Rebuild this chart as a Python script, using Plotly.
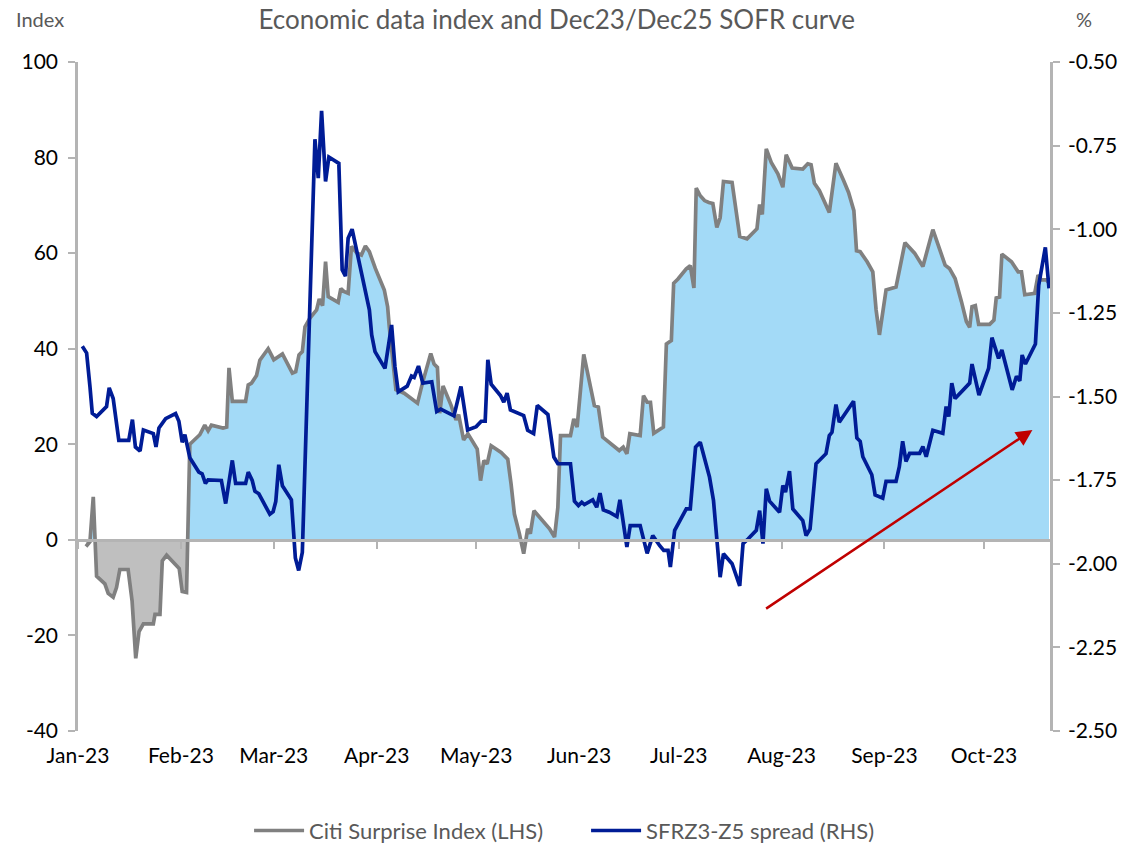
import numpy as np
import pandas as pd
import plotly.graph_objects as go

# ---------------- data ----------------
# day offsets from 1 Jan 2023
citi_day = [2.4, 3.6, 4.6, 5.6, 8.1, 9.1, 10.6, 11.6, 12.6, 15.1, 16.3, 17.4, 18.4, 19.7, 22.7, 23.2,
            24.7, 25.4, 26.7, 28.2, 30.5, 31.4, 32.7, 33.7, 36.7, 38.2, 39.2, 40.2, 43.7, 44.8, 45.5,
            46.5, 50.5, 51.3, 52.3, 53.8, 54.8, 57.3, 59.0, 61.6, 63.3, 64.6, 65.6, 66.6, 67.6, 68.4,
            69.9, 71.9, 72.7, 73.7, 74.6, 75.4, 78.4, 79.2, 80.1, 81.4, 82.4, 84.1, 85.4, 86.6, 87.8,
            89.6, 92.3, 93.3, 93.8, 95.0, 95.8, 98.3, 102.3, 103.8, 106.3, 107.3, 108.3, 109.0, 110.0,
            112.4, 113.9, 114.7, 116.2, 117.5, 120.3, 121.3, 122.3, 123.3, 124.5, 127.5, 129.5, 130.5,
            131.5, 133.0, 134.3, 135.5, 136.3, 137.4, 140.1, 142.1, 143.6, 144.6, 145.4, 148.4, 149.4,
            150.4, 152.4, 155.6, 156.8, 158.1, 163.1, 164.3, 165.4, 166.3, 169.4, 170.4, 171.5, 172.5,
            173.5, 176.4, 177.3, 178.8, 179.5, 180.8, 183.3, 184.5, 185.6, 186.3, 187.5, 188.8, 190.1,
            191.3, 192.5, 193.5, 194.5, 197.1, 199.4, 201.6, 204.6, 205.4, 206.2, 207.4, 208.9, 210.9,
            212.4, 213.4, 215.2, 218.4, 219.9, 220.9, 221.9, 223.4, 226.4, 228.4, 230.7, 232.2, 233.8,
            234.6, 235.7, 237.8, 239.5, 240.5, 241.5, 243.5, 246.5, 249.2, 252.1, 254.6, 257.6, 261.3,
            262.6, 264.3, 266.2, 267.7, 268.7, 269.4, 270.4, 271.4, 274.7, 276.0, 276.7, 277.7, 278.4,
            281.3, 283.3, 284.3, 285.3, 288.3, 289.3, 290.3, 291.8, 292.6]
citi_val = [-1.4, -0.4, 9, -7.6, -9.2, -11.2, -12, -10, -6.2, -6.2, -12.8, -24.8, -19.2, -17.6, -17.6, -15.6,
            -15.6, -4.4, -3.2, -4.4, -6, -10.8, -11, 20, 22, 24, 22.8, 24, 23.4, 23.6, 36,
            29, 29, 32.4, 32.8, 34.4, 37.6, 40, 37.7, 38.9, 36.6, 34.9, 35.2, 38.7, 39.4, 44.6,
            46.4, 48.1, 50.4, 49, 58.2, 50.9, 49.7, 52.6, 52, 51.6, 61.4, 60, 59.6, 61.5, 60.3,
            56.8, 52.3, 48.8, 44.6, 35.6, 31.4, 30.7, 28.6, 32.8, 39, 36.8, 36.1, 26.5, 32.2,
            28.2, 25.1, 26.2, 20.9, 22.2, 19, 12.4, 16.6, 15.9, 19.7, 18.3, 16.9, 11.7,
            5.4, 1.3, -2.9, 2.3, 1.3, 6.1, 4, 2.3, 0.6, 6.8, 21.8, 21.8, 25.3,
            23.6, 38.8, 28.1, 27.8, 21.5, 18.7, 19.4, 18, 22.2, 21.8, 30.2, 28.8, 28.8,
            22.3, 23.6, 41, 41.7, 53.7, 54.6, 56.7, 57.4, 52.7, 73.6, 72, 71, 70.6,
            70.4, 65.4, 67.4, 75, 74.8, 63.5, 63, 65.1, 70.2, 68.1, 81.8, 79, 76.6,
            73.8, 80.6, 77.8, 77.6, 78.7, 78.5, 74.6, 73.1, 68.5, 78.8, 75.2, 72.7, 68.9,
            60.5, 60.3, 58.2, 56.1, 48.1, 42.9, 52.3, 52.9, 62.2, 60, 57.2, 64.9, 57.5,
            56.8, 54.7, 49.9, 45.7, 44.5, 48.8, 49, 45.1, 45.1, 46, 50.6, 50.8, 59.8,
            58.2, 56.1, 56.1, 51.3, 51.6, 55.4, 54.4, 54.4, 53.8]

sofr_day = [1.3, 2.6, 3.6, 4.3, 5.6, 8.6, 9.4, 10.6, 12.3, 15.3, 16.4, 17.3, 18.7, 19.7, 22.7, 23.5,
            24.4, 26.4, 29.4, 30.4, 31.4, 32.2, 33.7, 36.4, 37.4, 38.4, 39.2, 43.2, 44.5, 46.5, 47.5,
            50.5, 51.3, 52.5, 53.3, 54.5, 57.8, 58.8, 59.6, 60.5, 61.6, 64.3, 65.5, 66.5, 67.6, 71.4,
            72.4, 73.4, 74.6, 75.6, 78.6, 79.6, 80.6, 81.4, 82.6, 85.2, 87.8, 88.5, 89.5, 92.5, 94.5,
            95.5, 96.5, 99.2, 100.5, 101.3, 102.6, 103.9, 106.6, 108.1, 109.3, 113.3, 115.4, 117.4,
            120.0, 121.5, 122.7, 123.5, 124.5, 127.3, 128.3, 129.3, 130.3, 134.3, 135.5, 137.3, 138.4,
            141.6, 143.4, 144.6, 148.4, 149.6, 150.8, 151.8, 152.6, 155.1, 156.3, 157.3, 158.3, 160.1,
            162.4, 163.3, 165.4, 166.4, 169.4, 171.5, 173.2, 175.3, 176.5, 177.8, 178.5, 179.8, 180.8,
            183.3, 184.5, 186.1, 187.5, 190.3, 191.5, 193.5, 194.5, 197.1, 199.4, 200.4, 201.9, 204.4,
            205.4, 206.4, 207.4, 208.4, 211.4, 212.4, 213.2, 214.4, 215.4, 218.4, 219.4, 220.6, 222.4,
            225.4, 226.4, 227.2, 228.4, 229.4, 233.7, 234.7, 235.7, 236.5, 239.2, 240.2, 242.5, 243.5,
            246.5, 247.5, 248.5, 249.5, 250.6, 253.6, 254.6, 255.6, 257.6, 260.6, 261.6, 262.4, 263.3,
            264.3, 268.7, 269.4, 271.5, 274.4, 275.4, 277.4, 278.4, 281.5, 282.8, 283.8, 284.5, 285.5,
            288.5, 289.5, 291.5, 292.6]
sofr_val = [-1.35, -1.37, -1.47, -1.55, -1.56, -1.53, -1.474, -1.506, -1.631, -1.631, -1.569, -1.651, -1.663, -1.6, -1.611, -1.651,
            -1.594, -1.566, -1.551, -1.574, -1.637, -1.614, -1.683, -1.726, -1.731, -1.76, -1.749, -1.751, -1.82, -1.691, -1.76,
            -1.76, -1.726, -1.751, -1.783, -1.791, -1.852, -1.844, -1.814, -1.704, -1.767, -1.809, -1.983, -2.02, -1.966, -0.731,
            -0.847, -0.646, -0.857, -0.784, -0.803, -1.121, -1.14, -1.027, -1.0, -1.121, -1.241, -1.316, -1.366, -1.416, -1.286,
            -1.41, -1.486, -1.469, -1.439, -1.443, -1.409, -1.46, -1.456, -1.545, -1.538, -1.558, -1.47, -1.6,
            -1.59, -1.574, -1.574, -1.39, -1.463, -1.497, -1.517, -1.49, -1.54, -1.557, -1.601, -1.611, -1.527,
            -1.554, -1.681, -1.701, -1.701, -1.813, -1.826, -1.816, -1.823, -1.809, -1.831, -1.789, -1.839, -1.846,
            -1.859, -1.809, -1.95, -1.886, -1.886, -1.969, -1.916, -1.946, -1.96, -1.96, -2.01, -1.9, -1.881,
            -1.836, -1.836, -1.651, -1.637, -1.741, -1.811, -2.04, -1.97, -2.0, -2.066, -1.94, -1.926, -1.9,
            -1.841, -1.94, -1.776, -1.813, -1.846, -1.766, -1.786, -1.723, -1.836, -1.871, -1.916, -1.896, -1.701,
            -1.671, -1.617, -1.607, -1.524, -1.577, -1.514, -1.624, -1.634, -1.68, -1.734, -1.794, -1.804, -1.754,
            -1.754, -1.71, -1.634, -1.694, -1.67, -1.67, -1.65, -1.68, -1.601, -1.61, -1.53, -1.56, -1.46,
            -1.506, -1.46, -1.403, -1.496, -1.416, -1.324, -1.386, -1.361, -1.48, -1.44, -1.453, -1.376, -1.403,
            -1.343, -1.167, -1.054, -1.177]

# arrow annotation (start / end), in day offsets and index units
arrow_day = [206.9, 287.6]
arrow_val = [-14.6, 23.0]

x_range_days = [0.0, 292.9]
left_ticks = [-40, -20, 0, 20, 40, 60, 80, 100]
right_ticks = [-2.5, -2.25, -2.0, -1.75, -1.5, -1.25, -1.0, -0.75, -0.5]

series_names = ["Citi Surprise Index (LHS)", "SFRZ3-Z5 spread (RHS)"]
title_text = "Economic data index and Dec23/Dec25 SOFR curve"

# ---------------- helpers ----------------
BASE = pd.Timestamp("2023-01-01")


def to_dates(days):
    return BASE + pd.to_timedelta(np.asarray(days, dtype=float), unit="D")


def split_sign(xd, yv):
    """insert zero crossings and return positive / negative parts"""
    xs, ys = [xd[0]], [yv[0]]
    for i in range(1, len(xd)):
        y0, y1 = yv[i - 1], yv[i]
        if (y0 > 0 > y1) or (y0 < 0 < y1):
            t = y0 / (y0 - y1)
            xs.append(xd[i - 1] + t * (xd[i] - xd[i - 1]))
            ys.append(0.0)
        xs.append(xd[i])
        ys.append(yv[i])
    ys = np.array(ys)
    return np.array(xs), np.maximum(ys, 0), np.minimum(ys, 0)


fx, fpos, fneg = split_sign(citi_day, citi_val)

GRAY_LINE = "#808080"
BLUE_LINE = "#001C96"
FILL_BLUE = "#A3DAF7"
FILL_GRAY = "#BFBFBF"
AXIS_C = "#B4B4B4"
FONT = "Lato"
left_range = [left_ticks[0], left_ticks[-1]]
right_range = [right_ticks[0], right_ticks[-1]]

fig = go.Figure()

fig.add_trace(go.Scatter(x=to_dates(fx), y=fpos, mode="lines", line=dict(width=0),
                         fill="tozeroy", fillcolor=FILL_BLUE, showlegend=False, hoverinfo="skip"))
fig.add_trace(go.Scatter(x=to_dates(fx), y=fneg, mode="lines", line=dict(width=0),
                         fill="tozeroy", fillcolor=FILL_GRAY, showlegend=False, hoverinfo="skip"))
fig.add_trace(go.Scatter(x=to_dates(citi_day), y=citi_val, mode="lines", name=series_names[0],
                         line=dict(color=GRAY_LINE, width=3.7)))
fig.add_trace(go.Scatter(x=to_dates(sofr_day), y=sofr_val, mode="lines", name=series_names[1],
                         line=dict(color=BLUE_LINE, width=3.7), yaxis="y2"))
# invisible trace carrying the zero-line axis (x2)
fig.add_trace(go.Scatter(x=to_dates(citi_day[:2]), y=[0, 0], mode="lines", line=dict(width=0),
                         xaxis="x2", showlegend=False, hoverinfo="skip"))

xr = list(to_dates(x_range_days))

fig.update_layout(
    width=1127, height=845,
    margin=dict(l=78, r=77, t=62, b=114, autoexpand=False),
    paper_bgcolor="white", plot_bgcolor="white",
    font=dict(family=FONT, color="#000000", size=21),
    title=dict(text=title_text, x=0.494, xanchor="center", y=0.976, yanchor="middle",
               font=dict(family=FONT, size=26, color="#595959")),
    showlegend=True,
    legend=dict(orientation="h", x=0.176, xanchor="left", y=-0.149, yanchor="middle",
                font=dict(family=FONT, size=22, color="#595959"), itemwidth=50,
                entrywidth=272, entrywidthmode="pixels",
                bgcolor="rgba(0,0,0,0)"),
    xaxis=dict(range=xr, type="date", dtick="M1", tick0="2023-01-01", tickformat="%b-%y",
               showgrid=False, showline=False, zeroline=False, ticks="", automargin=False,
               tickfont=dict(family=FONT, size=21, color="#000000"), ticklabelstandoff=10),
    xaxis2=dict(matches="x", overlaying="x", anchor="free",
                position=(0 - left_range[0]) / (left_range[1] - left_range[0]),
                type="date", dtick="M1", tick0="2023-01-01", showticklabels=False, automargin=False,
                showgrid=False, showline=True, linecolor=AXIS_C, linewidth=2.5,
                ticks="outside", ticklen=7, tickwidth=2, tickcolor=AXIS_C, zeroline=False),
    yaxis=dict(range=left_range, tickvals=left_ticks, ticktext=[str(v) for v in left_ticks],
               showgrid=False, zeroline=False, automargin=False,
               showline=True, linecolor=AXIS_C, linewidth=2.5,
               ticks="outside", ticklen=7, tickwidth=2, tickcolor=AXIS_C, ticklabelstandoff=6,
               tickfont=dict(family=FONT, size=21, color="#000000")),
    yaxis2=dict(range=right_range, tickvals=right_ticks, ticktext=[f"{v:.2f}" for v in right_ticks],
                overlaying="y", side="right", automargin=False,
                showgrid=False, zeroline=False, showline=True, linecolor=AXIS_C, linewidth=2.5,
                ticks="outside", ticklen=7, tickwidth=2, tickcolor=AXIS_C, ticklabelstandoff=4,
                tickfont=dict(family=FONT, size=21, color="#000000")),
)

# axis unit labels
fig.add_annotation(text="Index", xref="paper", yref="paper", x=-0.066, y=1.065,
                   xanchor="left", yanchor="middle", showarrow=False,
                   font=dict(family=FONT, size=20, color="#595959"))
fig.add_annotation(text="%", xref="paper", yref="paper", x=1.025, y=1.065,
                   xanchor="left", yanchor="middle", showarrow=False,
                   font=dict(family=FONT, size=20, color="#595959"))

# red trend arrow
ad = to_dates(arrow_day)
fig.add_annotation(x=ad[1], y=arrow_val[1], ax=ad[0], ay=arrow_val[0],
                   xref="x", yref="y", axref="x", ayref="y", text="",
                   showarrow=True, arrowhead=2, arrowsize=1.3, arrowwidth=2.5,
                   arrowcolor="#C00000")

fig.write_html("out.html", config={"displayModeBar": False},
               post_script="document.body.style.margin='0';document.body.style.overflow='hidden';")
